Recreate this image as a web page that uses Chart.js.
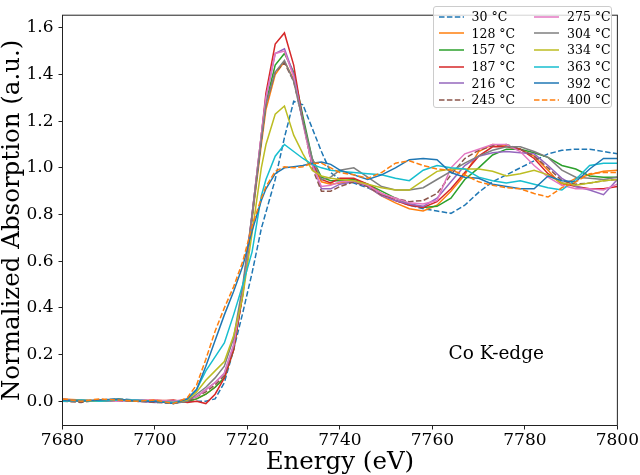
<!DOCTYPE html>
<html>
<head>
<meta charset="utf-8">
<script src="https://cdn.jsdelivr.net/npm/chart.js@4.4.1/dist/chart.umd.min.js"></script>
<style>
  body { margin: 0; background: #fff; }
  #wrap { position: relative; width: 640px; height: 475px; }
  #legend {
    position: absolute; left: 433px; top: 6px; width: 179px; height: 102px;
    box-sizing: border-box; border: 1px solid #cccccc; border-radius: 3px;
    background: rgba(255,255,255,0.8); font: 12.5px 'DejaVu Serif'; color: #000;
  }
  .item { position: absolute; height: 16px; display: flex; align-items: center; white-space: nowrap; }
  .item svg { margin-right: 8px; }
</style>
</head>
<body>
<div id="wrap">
  <canvas id="chart" width="640" height="475"></canvas>
  <div id="legend"></div>
</div>
<script>
// energy grid (eV)
const energy = [7680, 7684, 7688, 7692, 7696, 7700, 7704, 7707, 7709, 7711, 7713, 7715, 7717, 7719, 7721, 7723, 7724, 7726, 7728, 7730,
  7732, 7734, 7736, 7738, 7740, 7743, 7746, 7749, 7752, 7755, 7758, 7761, 7764, 7767, 7770, 7773, 7776, 7779, 7782, 7785,
  7788, 7791, 7794, 7797, 7800];

// normalized absorption per temperature
const abs30 = [0.005, 0.0, 0.005, 0.01, 0.005, 0.0, -0.005, 0.0,
  0.0, 0.0, 0.01, 0.08, 0.22, 0.38, 0.55, 0.74, 0.81, 0.95, 1.13, 1.285, 1.27, 1.17, 1.07, 0.98, 0.95, 0.935, 0.915, 0.885,
  0.86, 0.84, 0.825, 0.815, 0.805, 0.84, 0.895, 0.94, 0.97, 1.0, 1.03, 1.06, 1.075, 1.08, 1.08, 1.07, 1.06];
const abs128 = [0.01, 0.005, 0.0, 0.005, 0.0, 0.005, 0.0, 0.0,
  0.01, 0.03, 0.06, 0.10, 0.22, 0.46, 0.78, 1.10, 1.25, 1.40, 1.455, 1.38, 1.2, 1.02, 0.94, 0.93, 0.935, 0.945, 0.92, 0.88,
  0.85, 0.825, 0.815, 0.84, 0.90, 0.97, 1.07, 1.1, 1.095, 1.08, 1.05, 0.99, 0.925, 0.955, 0.97, 0.985, 0.99];
const abs157 = [0.0, 0.0, 0.005, 0.005, 0.0, 0.0, -0.005, 0.0,
  0.01, 0.03, 0.06, 0.10, 0.22, 0.47, 0.79, 1.12, 1.28, 1.44, 1.49, 1.41, 1.22, 1.04, 0.96, 0.945, 0.945, 0.95, 0.93, 0.9,
  0.87, 0.845, 0.83, 0.835, 0.87, 0.95, 1.0, 1.055, 1.08, 1.08, 1.065, 1.045, 1.01, 0.995, 0.965, 0.96, 0.96];
const abs187 = [0.005, 0.0, 0.0, 0.005, 0.005, 0.0, 0.005, -0.005,
  0.0, -0.01, 0.03, 0.10, 0.22, 0.46, 0.80, 1.14, 1.32, 1.53, 1.578, 1.44, 1.2, 1.02, 0.95, 0.935, 0.955, 0.955, 0.93, 0.89,
  0.86, 0.84, 0.83, 0.855, 0.91, 0.98, 1.05, 1.09, 1.09, 1.08, 1.04, 0.975, 0.935, 0.92, 0.91, 0.91, 0.92];
const abs216 = [0.01, 0.0, 0.0, 0.005, 0.0, -0.005, 0.0, 0.005,
  0.02, 0.05, 0.08, 0.12, 0.24, 0.48, 0.80, 1.14, 1.30, 1.49, 1.51, 1.40, 1.2, 1.02, 0.91, 0.91, 0.93, 0.94, 0.92, 0.88,
  0.86, 0.845, 0.835, 0.87, 0.94, 1.01, 1.05, 1.065, 1.07, 1.065, 1.06, 1.01, 0.955, 0.92, 0.905, 0.885, 0.95];
const abs245 = [0.0, -0.005, 0.005, 0.0, 0.0, -0.005, -0.01, 0.0,
  0.02, 0.04, 0.07, 0.11, 0.23, 0.47, 0.79, 1.12, 1.27, 1.41, 1.45, 1.37, 1.2, 1.0, 0.90, 0.90, 0.92, 0.94, 0.92, 0.885,
  0.87, 0.855, 0.86, 0.89, 0.97, 1.04, 1.075, 1.095, 1.1, 1.08, 1.05, 1.0, 0.945, 0.93, 0.935, 0.945, 0.95];
const abs275 = [0.005, 0.0, 0.005, 0.0, 0.005, 0.005, 0.0, 0.01,
  0.02, 0.05, 0.08, 0.12, 0.24, 0.48, 0.80, 1.14, 1.30, 1.49, 1.50, 1.39, 1.19, 1.01, 0.92, 0.925, 0.94, 0.945, 0.925, 0.89,
  0.87, 0.85, 0.845, 0.86, 1.0, 1.06, 1.08, 1.1, 1.1, 1.07, 1.01, 0.96, 0.925, 0.91, 0.91, 0.905, 0.93];
const abs304 = [0.0, 0.005, 0.0, 0.005, 0.0, 0.0, -0.01, 0.0,
  0.03, 0.06, 0.10, 0.15, 0.27, 0.50, 0.80, 1.12, 1.27, 1.41, 1.46, 1.37, 1.2, 1.04, 0.95, 0.96, 0.99, 1.0, 0.96, 0.92,
  0.905, 0.905, 0.915, 0.95, 0.985, 1.02, 1.05, 1.075, 1.09, 1.09, 1.07, 1.045, 0.99, 0.96, 0.955, 0.95, 0.96];
const abs334 = [0.005, 0.0, 0.0, 0.01, 0.0, 0.0, -0.005, 0.005,
  0.04, 0.09, 0.13, 0.17, 0.28, 0.45, 0.72, 1.0, 1.1, 1.23, 1.265, 1.14, 1.06, 0.99, 0.965, 0.955, 0.95, 0.945, 0.93, 0.915,
  0.905, 0.905, 0.945, 0.985, 0.995, 0.995, 0.995, 0.985, 0.965, 0.975, 0.99, 0.97, 0.935, 0.925, 0.935, 0.945, 0.95];
const abs363 = [0.0, 0.005, 0.0, 0.005, 0.005, 0.0, -0.005, 0.01,
  0.05, 0.13, 0.19, 0.25, 0.37, 0.50, 0.64, 0.88, 0.95, 1.05, 1.10, 1.07, 1.04, 1.015, 1.0, 0.99, 0.985, 0.98, 0.975, 0.97,
  0.955, 0.945, 0.99, 1.01, 1.0, 0.995, 0.96, 0.945, 0.935, 0.945, 0.93, 0.915, 0.905, 0.95, 1.01, 1.02, 1.02];
const abs392 = [0.005, 0.0, 0.005, 0.01, 0.0, 0.0, -0.01, 0.01,
  0.05, 0.15, 0.26, 0.37, 0.47, 0.58, 0.73, 0.86, 0.91, 0.975, 1.0, 1.005, 1.01, 1.02, 1.025, 1.015, 0.99, 0.97, 0.95, 0.97,
  1.0, 1.035, 1.04, 1.035, 0.98, 0.96, 0.955, 0.93, 0.92, 0.91, 0.91, 0.965, 0.945, 0.94, 0.995, 1.04, 1.04];
const abs400 = [0.01, 0.0, 0.01, 0.005, 0.0, 0.005, -0.01, 0.015,
  0.07, 0.18, 0.30, 0.40, 0.49, 0.60, 0.75, 0.87, 0.92, 0.985, 1.005, 1.0, 1.005, 1.02, 1.02, 1.0, 0.98, 0.97, 0.955, 0.98,
  1.02, 1.03, 1.01, 0.995, 0.99, 0.97, 0.94, 0.925, 0.915, 0.91, 0.89, 0.875, 0.915, 0.94, 0.975, 0.98, 0.98];

const seriesLabels = ['30 °C', '128 °C', '157 °C', '187 °C', '216 °C', '245 °C', '275 °C', '304 °C', '334 °C', '363 °C', '392 °C', '400 °C'];
const seriesValues = [abs30, abs128, abs157, abs187, abs216, abs245, abs275, abs304, abs334, abs363, abs392, abs400];
const xTicks = [7680, 7700, 7720, 7740, 7760, 7780, 7800];
const yTicks = [0.0, 0.2, 0.4, 0.6, 0.8, 1.0, 1.2, 1.4, 1.6];

// matplotlib tab10 cycle, dashed for 30, 245 and 400 °C
const colors = ['#1f77b4', '#ff7f0e', '#2ca02c', '#d62728', '#9467bd', '#8c564b', '#e377c2', '#7f7f7f', '#bcbd22', '#17becf', '#1f77b4', '#ff7f0e'];
const dashed = [true, false, false, false, false, true, false, false, false, false, false, true];
const DASH = [5.5, 2.4];
const SERIF = "'DejaVu Serif', serif";

const datasets = seriesValues.map((vals, i) => ({
  label: seriesLabels[i],
  data: energy.map((e, k) => ({ x: e, y: vals[k] })),
  borderColor: colors[i],
  borderWidth: 1.5,
  borderDash: dashed[i] ? DASH : [],
  pointRadius: 0,
  tension: 0,
  fill: false,
  order: seriesValues.length - i
}));

const framePlugin = {
  id: 'frame',
  afterDatasetsDraw(chart) {
    const { ctx, chartArea: a, scales } = chart;
    ctx.save();
    ctx.fillStyle = '#000';
    ctx.font = '18.5px ' + SERIF;
    ctx.textAlign = 'center';
    ctx.textBaseline = 'middle';
    ctx.fillText('Co K-edge', scales.x.getPixelForValue(7773.8), scales.y.getPixelForValue(0.2));
    ctx.strokeStyle = '#222';
    ctx.lineWidth = 1;
    ctx.strokeRect(a.left, a.top, a.right - a.left, a.bottom - a.top);
    ctx.restore();
  }
};

new Chart(document.getElementById('chart'), {
  type: 'line',
  data: { datasets },
  options: {
    responsive: false,
    animation: false,
    devicePixelRatio: 1,
    layout: { padding: { left: 0, top: 1.5, right: 20.5, bottom: 0 } },
    plugins: { legend: { display: false }, tooltip: { enabled: false } },
    scales: {
      x: {
        type: 'linear', min: 7680, max: 7800,
        afterBuildTicks: s => { s.ticks = xTicks.map(v => ({ value: v })); },
        afterFit: s => { s.height = 49.5; },
        ticks: { color: '#000', font: { family: SERIF, size: 17 }, padding: 1, maxRotation: 0, callback: v => String(v) },
        grid: { drawOnChartArea: false, drawTicks: true, tickLength: 4, color: '#222' },
        border: { display: false },
        title: { display: true, text: 'Energy (eV)', color: '#000', font: { family: SERIF, size: 24.5, lineHeight: 1 }, padding: { top: 0, bottom: 0.5 } }
      },
      y: {
        min: -0.104, max: 1.654,
        afterBuildTicks: s => { s.ticks = yTicks.map(v => ({ value: v })); },
        afterFit: s => { s.width = 62.5; },
        ticks: { color: '#000', font: { family: SERIF, size: 17 }, padding: 5, callback: v => v.toFixed(1) },
        grid: { drawOnChartArea: false, drawTicks: true, tickLength: 4, color: '#222' },
        border: { display: false },
        title: { display: true, text: 'Normalized Absorption (a.u.)', color: '#000', font: { family: SERIF, size: 24.5, lineHeight: 1 }, padding: { top: 0, bottom: 0 } }
      }
    }
  },
  plugins: [framePlugin]
});

// legend: two columns, filled column by column
const legend = document.getElementById('legend');
seriesLabels.forEach((lab, i) => {
  const col = Math.floor(i / 6), row = i % 6;
  const item = document.createElement('div');
  item.className = 'item';
  item.style.left = (col === 0 ? 4.5 : 100) + 'px';
  item.style.top = (1.5 + row * 16.67) + 'px';
  const dash = dashed[i] ? ' stroke-dasharray="' + DASH.join(' ') + '"' : '';
  item.innerHTML = '<svg width="25" height="10"><line x1="0" y1="5" x2="25" y2="5" stroke="' + colors[i] + '" stroke-width="1.5"' + dash + '/></svg><span>' + lab + '</span>';
  legend.appendChild(item);
});
</script>
</body>
</html>
